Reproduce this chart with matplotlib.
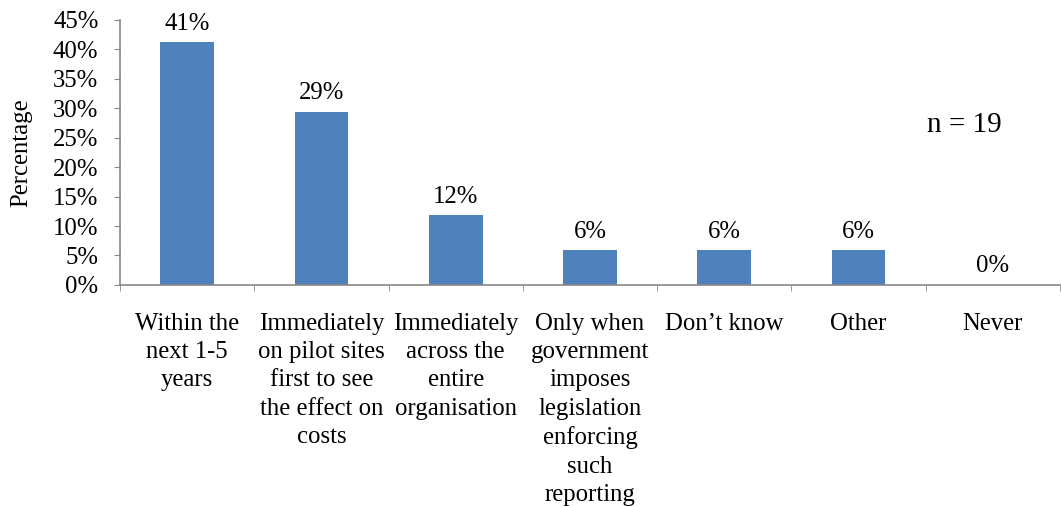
import numpy as np
import matplotlib.pyplot as plt
from matplotlib.ticker import FixedLocator

categories = ["Within the\nnext 1-5\nyears",
              "Immediately\non pilot sites\nfirst to see\nthe effect on\ncosts",
              "Immediately\nacross the\nentire\norganisation",
              "Only when\ngovernment\nimposes\nlegislation\nenforcing\nsuch\nreporting",
              "Don\u2019t know",
              "Other",
              "Never"]
values = [41.2, 29.4, 11.8, 5.9, 5.9, 5.9, 0.0]
labels = ["41%", "29%", "12%", "6%", "6%", "6%", "0%"]

plt.rcParams['font.family'] = ['Liberation Serif', 'DejaVu Serif']
fs = 17.8

fig = plt.figure(figsize=(10.62, 5.07), dpi=100)
ax = fig.add_axes([0.113, 0.438, 0.885, 0.523])

x = np.arange(len(categories))
ax.bar(x, values, width=0.4, color='#4F81BD', zorder=2)

for xi, v, lab in zip(x, values, labels):
    ax.text(xi, v + 1.3, lab, ha='center', va='bottom', fontsize=fs)

ax.set_xlim(-0.5, len(categories) - 0.5)
ax.set_ylim(0, 45)
ax.set_yticks(np.arange(0, 46, 5))
ax.set_yticklabels([f"{t}%" for t in range(0, 46, 5)], fontsize=fs)
ax.set_ylabel("Percentage", fontsize=fs)
ax.yaxis.set_label_coords(-0.093, 0.5)

ax.set_xticks(x)
ax.set_xticklabels(categories, fontsize=fs, linespacing=1.37, va='top')
ax.tick_params(axis='x', length=0, pad=20)
ax.xaxis.set_minor_locator(FixedLocator(np.arange(-0.5, len(categories), 1.0)))
ax.tick_params(axis='x', which='minor', length=4.5, color='#888888', direction='out')
ax.tick_params(axis='y', length=4.5, color='#888888', direction='out', pad=11)

for s in ['top', 'right']:
    ax.spines[s].set_visible(False)
for s in ['left', 'bottom']:
    ax.spines[s].set_color('#888888')
    ax.spines[s].set_linewidth(1.2)

ax.text(0.908, 0.753, "n = 19", transform=fig.transFigure, fontsize=21,
        ha='center', va='center')

fig.savefig("out.png", dpi=100)
